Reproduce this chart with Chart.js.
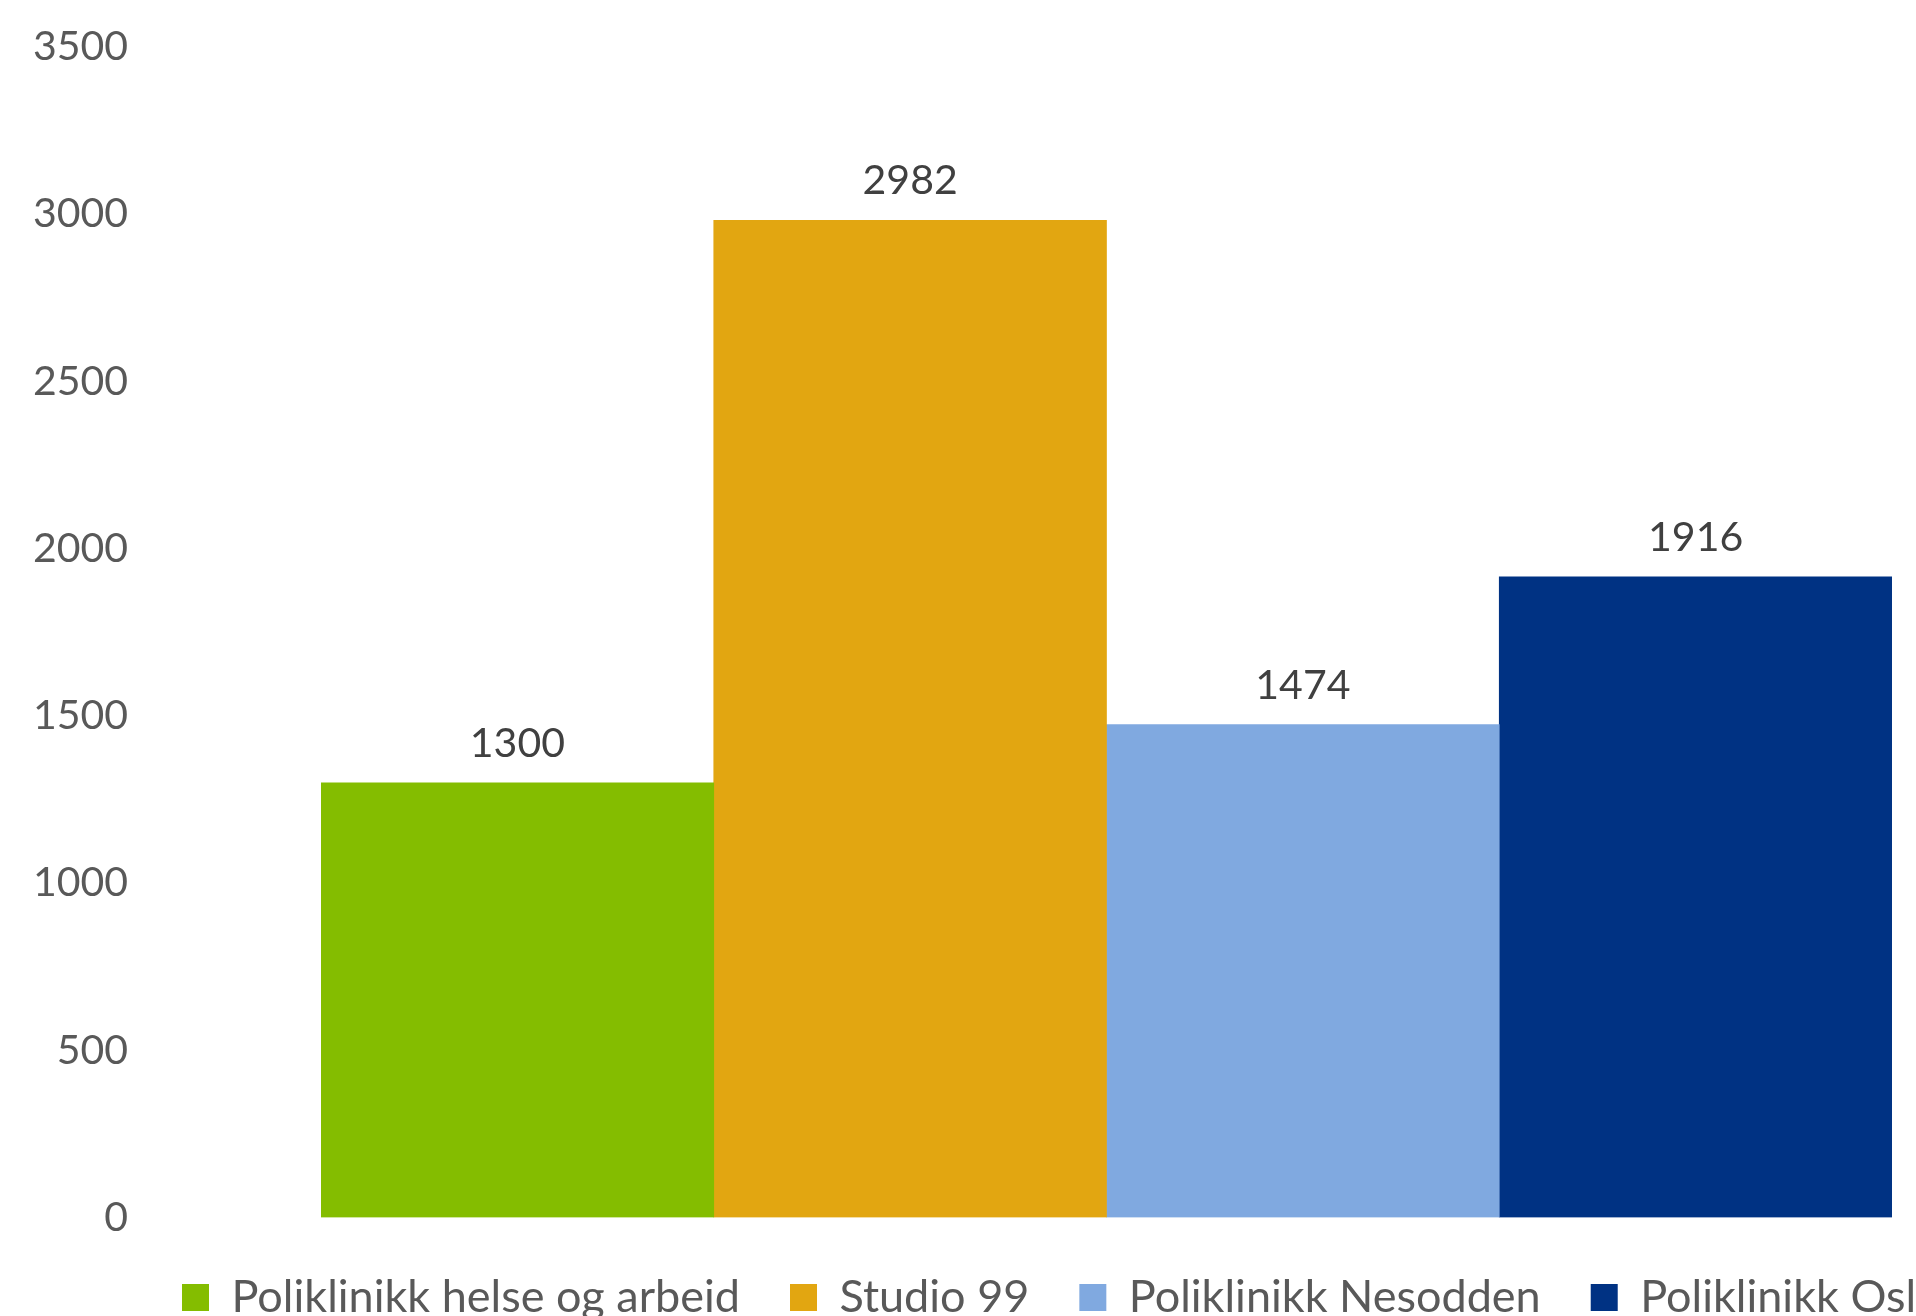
<!DOCTYPE html>
<html>
<head>
<meta charset="utf-8">
<script src="https://cdn.jsdelivr.net/npm/chart.js@4"></script>
<style>
  html, body { margin: 0; padding: 0; background: #fff; overflow: hidden; }
  canvas { display: block; }
</style>
</head>
<body>
<canvas id="klinikkChart" width="2100" height="1330"></canvas>
<script>
// canvas is a bit larger than the window so the legend runs off the edges like in the original
const categories = ['Poliklinikk helse og arbeid', 'Studio 99', 'Poliklinikk Nesodden', 'Poliklinikk Oslo']
const values = [1300, 2982, 1474, 1916]
const colors = ['#84BD00', '#E2A611', '#80A9E0', '#003283']
const yTicks = [0, 500, 1000, 1500, 2000, 2500, 3000, 3500]

const fontFamily = 'Lato, "Open Sans", sans-serif'

// value labels over each bar
const barLabels = {
    id: 'barLabels',
    afterDatasetsDraw(chart) {
        const ctx = chart.ctx
        ctx.save()
        ctx.font = '41px ' + fontFamily
        ctx.fillStyle = '#404040'
        ctx.textAlign = 'center'
        ctx.textBaseline = 'middle'
        chart.data.datasets.forEach((ds, i) => {
            const bar = chart.getDatasetMeta(i).data[0]
            ctx.fillText(ds.data[0], bar.x, bar.y - 39)
        })
        ctx.restore()
    }
}

// legend starts further right than the y labels
const legendShift = {
    id: 'legendShift',
    afterLayout(chart) {
        chart.legend.left = 132
    }
}

const hidden = {
    grid: { display: false },
    border: { display: false },
    ticks: { display: false }
}

var ctx = document.getElementById('klinikkChart').getContext('2d')
var klinikkChart = new Chart(ctx, {
    type: 'bar',
    data: {
        labels: [''],
        datasets: categories.map((name, i) => ({
            label: name,
            data: [values[i]],
            backgroundColor: colors[i],
            borderWidth: 0,
            categoryPercentage: 1,
            barPercentage: 1
        }))
    },
    options: {
        responsive: false,
        animation: false,
        devicePixelRatio: 1,
        layout: {
            padding: { top: 47, left: 0, right: 0, bottom: 0 }
        },
        scales: {
            x: { ...hidden, afterFit: axis => { axis.height = 7.5 } },
            y: {
                min: 0,
                max: 3500,
                weight: 1,
                grid: { display: false },
                border: { display: false },
                afterBuildTicks: axis => { axis.ticks = yTicks.map(v => ({ value: v })) },
                afterFit: axis => { axis.width = 144 },
                ticks: {
                    padding: 8,
                    color: '#595959',
                    font: { family: fontFamily, size: 41 },
                    callback: v => String(v)
                }
            },
            // empty axes only used to hold the gaps beside the plot
            gapLeft: { ...hidden, position: 'left', weight: 0, afterFit: axis => { axis.width = 177 } },
            gapRight: { ...hidden, position: 'right', afterFit: axis => { axis.width = 208 } }
        },
        plugins: {
            legend: {
                position: 'bottom',
                align: 'start',
                labels: {
                    boxWidth: 27,
                    boxHeight: 27,
                    padding: 50,
                    color: '#595959',
                    font: { family: fontFamily, size: 45 }
                }
            },
            tooltip: { enabled: false }
        }
    },
    plugins: [barLabels, legendShift]
})
</script>
</body>
</html>
